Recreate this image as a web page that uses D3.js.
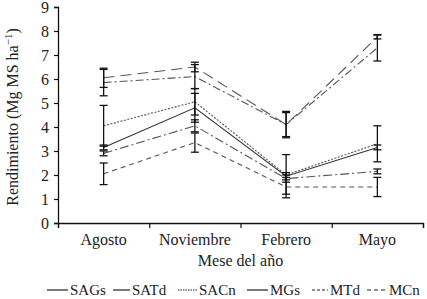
<!DOCTYPE html>
<html>
<head>
<meta charset="utf-8">
<script src="https://cdn.jsdelivr.net/npm/d3@7"></script>
<style>
  body { margin: 0; background: #fff; }
</style>
</head>
<body>
<div id="chart"></div>
<script>
const chart = { width: 427, height: 299 };
const margin = { left: 58, right: 4, top: 7, bottom: 76 };
const serif = "Liberation Serif";

// data
const months = ["Agosto", "Noviembre", "Febrero", "Mayo"];
const yTicks = [0, 1, 2, 3, 4, 5, 6, 7, 8, 9];
const seriesNames = ["MGs", "MTd", "SACn", "SAGs", "SATd", "MCn"];
const MGs = [6.05, 6.5, 4.1, 7.75];
const MTd = [5.85, 6.1, 4.1, 7.3];
const SACn = [4.05, 5.05, 2.0, 3.3];
const SAGs = [3.15, 4.8, 1.95, 3.15];
const SATd = [2.9, 4.05, 1.85, 2.15];
const MCn = [2.05, 3.35, 1.5, 1.5];
// error half-widths
const errMGs = [0.4, 0.2, 0.5, 0.08];
const errMTd = [0.55, 0.5, 0.55, 0.55];
const errSACn = [0.85, 0.55, 0.1, 0.75];
const errSAGs = [0.1, 0.6, 0.9, 0.1];
const errSATd = [0.1, 0.25, 0.15, 0.1];
const errMCn = [0.45, 0.4, 0.3, 0.4];
const legendNames = ["SAGs", "SATd", "SACn", "MGs", "MTd", "MCn"];

const values = { MGs, MTd, SACn, SAGs, SATd, MCn };
const errs = { MGs: errMGs, MTd: errMTd, SACn: errSACn, SAGs: errSAGs, SATd: errSATd, MCn: errMCn };
const dash = { MGs: "11,6", MTd: "8,3,2,3", SACn: "2,1.5", SAGs: null, SATd: "9,3,2,3", MCn: "5,4" };
const legendDash = { SAGs: null, SATd: null, SACn: "1.5,1", MGs: null, MTd: "3,2", MCn: "4,3" };

const svg = d3.select("#chart").append("svg")
    .attr("width", chart.width).attr("height", chart.height)
    .attr("font-family", serif);

const x = d3.scaleLinear().domain([0, months.length])
    .range([margin.left, chart.width - margin.right]);
const y = d3.scaleLinear().domain([0, 9])
    .range([chart.height - margin.bottom, margin.top]);

// lines
const line = d3.line()
    .x((d, i) => x(i + 0.5))
    .y(d => y(d));

seriesNames.forEach(name => {
    svg.append("path")
        .datum(values[name])
        .attr("d", line)
        .attr("fill", "none")
        .attr("stroke", name === "SAGs" ? "#333" : "#555")
        .attr("stroke-width", 1.1)
        .attr("stroke-dasharray", dash[name]);
});

// error bars
seriesNames.forEach(name => {
    values[name].forEach((v, i) => {
        const e = errs[name][i];
        const cx = x(i + 0.5);
        const g = svg.append("g").attr("stroke", "#111").attr("stroke-width", 1.3);
        g.append("line").attr("x1", cx).attr("x2", cx).attr("y1", y(v - e)).attr("y2", y(v + e));
        g.append("line").attr("x1", cx - 4).attr("x2", cx + 4).attr("y1", y(v - e)).attr("y2", y(v - e));
        g.append("line").attr("x1", cx - 4).attr("x2", cx + 4).attr("y1", y(v + e)).attr("y2", y(v + e));
    });
});

// y axis
const yAxis = svg.append("g")
    .attr("transform", "translate(" + margin.left + ",0)")
    .call(d3.axisLeft(y).tickValues(yTicks).tickSize(4).tickPadding(5).tickFormat(d3.format("d")));
yAxis.attr("font-family", serif).attr("font-size", 16);
yAxis.select(".domain").attr("stroke", "#111").attr("stroke-width", 1.3);
yAxis.selectAll(".tick line").attr("stroke", "#111").attr("stroke-width", 1.2);
yAxis.selectAll("text").attr("fill", "#222");

// x axis, ticks on band edges
const xAxis = svg.append("g")
    .attr("transform", "translate(0," + y(0) + ")")
    .call(d3.axisBottom(x).tickValues(d3.range(months.length + 1)).tickSize(5).tickFormat(""));
xAxis.select(".domain").attr("stroke", "#111").attr("stroke-width", 1.3);
xAxis.selectAll(".tick line").attr("stroke", "#111").attr("stroke-width", 1.2);

svg.selectAll(".month").data(months).enter().append("text")
    .attr("class", "month")
    .attr("x", (d, i) => x(i + 0.5))
    .attr("y", y(0) + 22)
    .attr("text-anchor", "middle")
    .attr("font-size", 16).attr("fill", "#222")
    .text(d => d);

// axis titles
svg.append("text")
    .attr("x", (x(0) + x(4)) / 2)
    .attr("y", y(0) + 43)
    .attr("text-anchor", "middle")
    .attr("font-size", 16).attr("fill", "#222")
    .text("Mese del año");

const yt = svg.append("text")
    .attr("transform", "translate(18," + ((y(0) + y(9)) / 2 + 2) + ") rotate(-90)")
    .attr("text-anchor", "middle")
    .attr("font-size", 16).attr("fill", "#222");
yt.append("tspan").text("Rendimiento (Mg MS ha");
yt.append("tspan").attr("dy", -6).attr("font-size", 11).text("−1");
yt.append("tspan").attr("dy", 6).text(")");

// legend
const legendX = [47, 113, 178, 247, 312, 367];
const legendLen = [21, 17, 19, 21, 16, 20];
legendNames.forEach((name, i) => {
    svg.append("line")
        .attr("x1", legendX[i]).attr("x2", legendX[i] + legendLen[i])
        .attr("y1", 290).attr("y2", 290)
        .attr("stroke", "#222").attr("stroke-width", 1.2)
        .attr("stroke-dasharray", legendDash[name]);
    svg.append("text")
        .attr("x", legendX[i] + legendLen[i] + 2)
        .attr("y", 295)
        .attr("font-size", 15).attr("fill", "#222")
        .text(name);
});
</script>
</body>
</html>
